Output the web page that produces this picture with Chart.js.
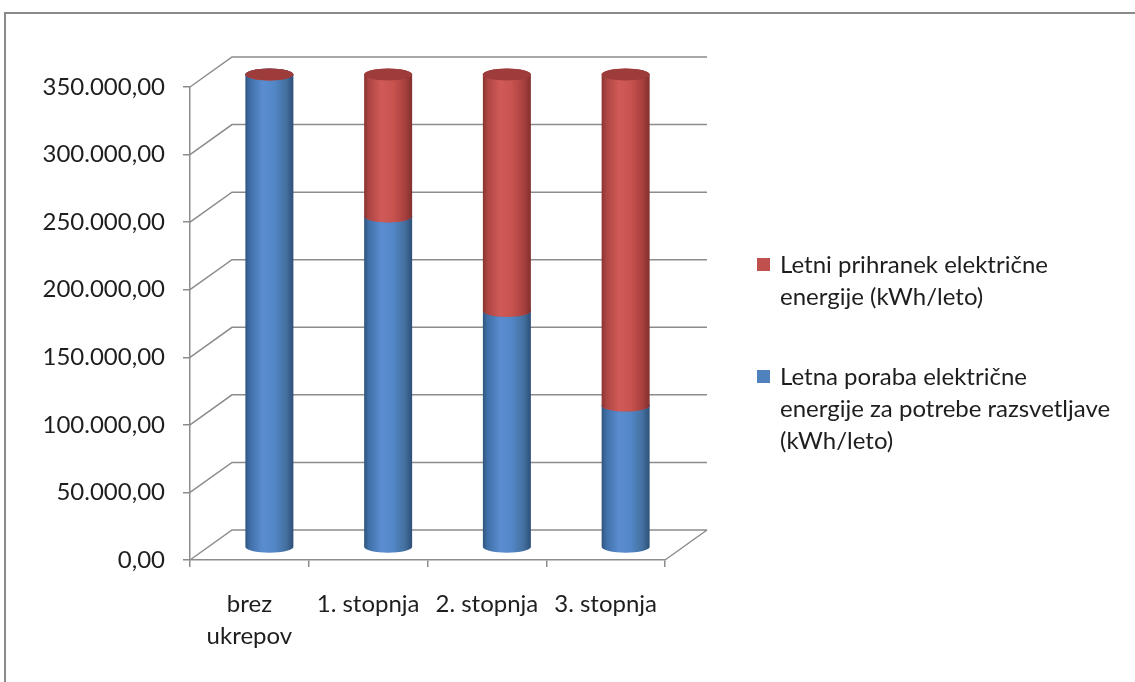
<!DOCTYPE html>
<html lang="sl">
<head>
    <meta charset="UTF-8">
    <title>Letna poraba in prihranek električne energije</title>
    <style>
        html, body {
            margin: 0;
            padding: 0;
            background-color: #fff;
        }
        #chart {
            display: block;
        }
    </style>
    <script src="https://cdn.jsdelivr.net/npm/chart.js"></script>
</head>
<body>
    <canvas id="chart" width="1135" height="682"></canvas>
    <script>
        // Podatki
        const categories = [['brez', 'ukrepov'], '1. stopnja', '2. stopnja', '3. stopnja'];
        const porabaValues = [350000, 245000, 175000, 105000];
        const prihranekValues = [0, 105000, 175000, 245000];
        const porabaLabel = ['Letna poraba električne', 'energije za potrebe razsvetljave', '(kWh/leto)'];
        const prihranekLabel = ['Letni prihranek električne', 'energije (kWh/leto)'];
        const yMax = 350000;
        const yStep = 50000;

        const FONT = 'Lato, "Open Sans", sans-serif';
        const TEXT = '#1e1e1e';
        const GRID = '#8c8c8c';

        // 3D globina sten in položaj valjev
        const DEPTH_X = 42, DEPTH_Y = 30;
        const CYL_DX = 20, CYL_DY = 12.5, CYL_RX = 24, CYL_RY = 6;

        const shades = [
            { // modra - poraba
                swatch: '#4f81bd',
                body: [[0, '#30557f'], [0.1, '#4070a8'], [0.36, '#5a8dd0'], [0.6, '#5287c8'], [0.85, '#44709f'], [1, '#2d4f78']],
                cap: '#4a7bb8'
            },
            { // rdeča - prihranek
                swatch: '#c0504d',
                body: [[0, '#8a3331'], [0.1, '#ad4543'], [0.36, '#d05a57'], [0.6, '#c9534f'], [0.85, '#a8403e'], [1, '#82302e']],
                cap: '#9d3c3a'
            }
        ];

        function formatSl(v) {
            const int = Math.round(v).toString().replace(/\B(?=(\d{3})+(?!\d))/g, '.');
            return int + ',00';
        }

        function drawSegment(ctx, cx, yTop, yBase, shade) {
            const g = ctx.createLinearGradient(cx - CYL_RX, 0, cx + CYL_RX, 0);
            shade.body.forEach(([o, c]) => g.addColorStop(o, c));
            ctx.fillStyle = g;
            ctx.beginPath();
            ctx.moveTo(cx - CYL_RX, yTop);
            ctx.lineTo(cx - CYL_RX, yBase);
            ctx.ellipse(cx, yBase, CYL_RX, CYL_RY, 0, Math.PI, 0, true);
            ctx.lineTo(cx + CYL_RX, yTop);
            ctx.ellipse(cx, yTop, CYL_RX, CYL_RY, 0, 0, Math.PI, true);
            ctx.closePath();
            ctx.fill();
            // pokrov
            ctx.fillStyle = shade.cap;
            ctx.beginPath();
            ctx.ellipse(cx, yTop, CYL_RX, CYL_RY, 0, 0, Math.PI * 2);
            ctx.fill();
        }

        const cylinders3d = {
            id: 'cylinders3d',
            beforeDatasetsDraw(chart) {
                // stranska stena, zadnja stena in tla
                const { ctx, chartArea: a, scales: { y } } = chart;
                ctx.save();
                ctx.strokeStyle = GRID;
                ctx.lineWidth = 1.5;
                ctx.beginPath();
                y.ticks.forEach(t => {
                    const py = y.getPixelForValue(t.value);
                    ctx.moveTo(a.left, py);
                    ctx.lineTo(a.left + DEPTH_X, py - DEPTH_Y);
                    ctx.lineTo(a.right + DEPTH_X, py - DEPTH_Y);
                });
                ctx.moveTo(a.right, a.bottom);
                ctx.lineTo(a.right + DEPTH_X, a.bottom - DEPTH_Y);
                ctx.stroke();
                ctx.restore();
            },
            beforeDatasetDraw() {
                return false; // stolpce nadomestijo valji
            },
            afterDatasetsDraw(chart) {
                const ctx = chart.ctx;
                ctx.save();
                categories.forEach((_, i) => {
                    chart.data.datasets.forEach((ds, d) => {
                        const bar = chart.getDatasetMeta(d).data[i];
                        const { x, y, base } = bar.getProps(['x', 'y', 'base'], true);
                        drawSegment(ctx, x + CYL_DX, y - CYL_DY, base - CYL_DY, shades[d]);
                    });
                });
                ctx.restore();
            },
            afterDraw(chart) {
                const ctx = chart.ctx;
                ctx.save();
                // legenda
                ctx.font = '24px ' + FONT;
                ctx.textBaseline = 'middle';
                ctx.fillStyle = TEXT;
                const items = [
                    { lines: prihranekLabel, shade: shades[1], y: 265 },
                    { lines: porabaLabel, shade: shades[0], y: 377 }
                ];
                items.forEach(item => {
                    ctx.fillStyle = item.shade.swatch;
                    ctx.fillRect(757, item.y - 7, 13, 13);
                    ctx.fillStyle = TEXT;
                    item.lines.forEach((line, k) => ctx.fillText(line, 780, item.y + k * 32));
                });
                // okvir
                ctx.strokeStyle = '#8a8a8a';
                ctx.lineWidth = 2;
                ctx.strokeRect(5, 13, 1200, 800);
                ctx.restore();
            }
        };

        const tickFont = { family: FONT, size: 24, lineHeight: 1.33 };

        new Chart(document.getElementById('chart'), {
            type: 'bar',
            data: {
                labels: categories,
                datasets: [
                    { label: porabaLabel.join(' '), data: porabaValues, backgroundColor: shades[0].swatch },
                    { label: prihranekLabel.join(' '), data: prihranekValues, backgroundColor: shades[1].swatch }
                ]
            },
            plugins: [cylinders3d],
            options: {
                responsive: false,
                devicePixelRatio: 1,
                animation: false,
                layout: { padding: { top: 87, right: 470, left: 0, bottom: 0 } },
                plugins: {
                    legend: { display: false },
                    tooltip: { enabled: false }
                },
                scales: {
                    x: {
                        stacked: true,
                        grid: { offset: true, drawOnChartArea: false, color: GRID, lineWidth: 1.5, tickLength: 7 },
                        border: { display: true, color: GRID, width: 1.5 },
                        ticks: { font: tickFont, color: TEXT, padding: 21, maxRotation: 0, autoSkip: false },
                        afterFit(scale) { scale.height = 122; }
                    },
                    y: {
                        stacked: true,
                        min: 0,
                        max: yMax,
                        grid: { drawOnChartArea: false, color: GRID, lineWidth: 1.5, tickLength: 7 },
                        border: { display: true, color: GRID, width: 1.5 },
                        ticks: { stepSize: yStep, callback: formatSl, padding: 18, font: tickFont, color: TEXT },
                        afterFit(scale) { scale.width = 190; }
                    }
                }
            }
        });
    </script>
</body>
</html>
